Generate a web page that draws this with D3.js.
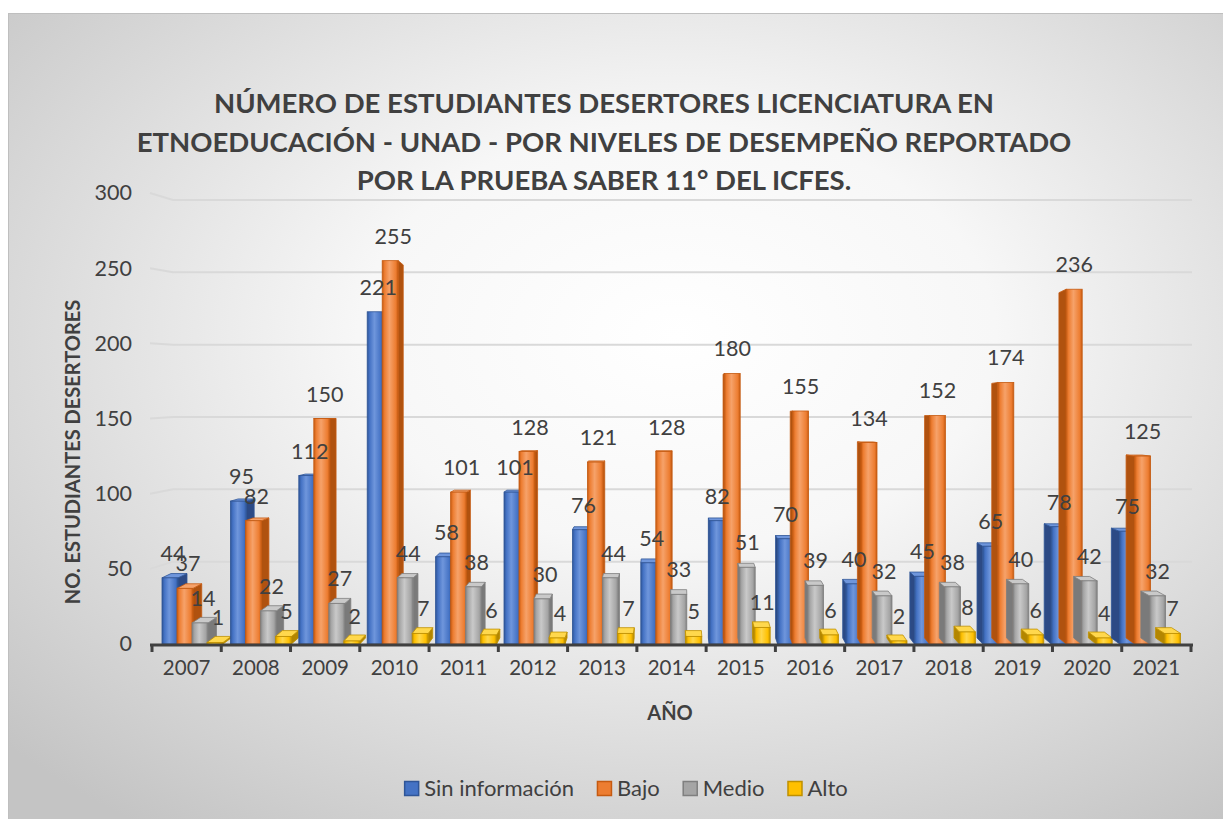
<!DOCTYPE html>
<html lang="es">
<head>
<meta charset="UTF-8">
<title>Estudiantes desertores por nivel de desempeño</title>
<script src="https://cdnjs.cloudflare.com/ajax/libs/d3/7.8.5/d3.min.js"></script>
<style>
  body { margin: 0; background: #ffffff; }
  text { font-family: Lato, "DejaVu Sans", sans-serif; fill: #404040; }
</style>
</head>
<body>
<div id="chart"></div>
<script>
/* global d3 */

// data
var years = ["2007", "2008", "2009", "2010", "2011", "2012", "2013", "2014", "2015", "2016", "2017", "2018", "2019", "2020", "2021"];
var sinInfo = [44, 95, 112, 221, 58, 101, 76, 54, 82, 70, 40, 45, 65, 78, 75];
var bajo    = [37, 82, 150, 255, 101, 128, 121, 128, 180, 155, 134, 152, 174, 236, 125];
var medio   = [14, 22, 27, 44, 38, 30, 44, 33, 51, 39, 32, 38, 40, 42, 32];
var alto    = [1, 5, 2, 7, 6, 4, 7, 5, 11, 6, 2, 8, 6, 4, 7];
var seriesNames = ["Sin información", "Bajo", "Medio", "Alto"];
var yTicks = [0, 50, 100, 150, 200, 250, 300];
var titleLines = [
  "NÚMERO DE ESTUDIANTES DESERTORES LICENCIATURA EN",
  "ETNOEDUCACIÓN - UNAD - POR NIVELES DE DESEMPEÑO REPORTADO",
  "POR LA PRUEBA SABER 11° DEL ICFES."
];

var series = [sinInfo, bajo, medio, alto];
// colours: [edge, base, light, side]
var colors = [
  ["#2f5597", "#4472c4", "#6f96dc", "#2c4a85"],
  ["#c55a11", "#ed7d31", "#f6a26a", "#b0520f"],
  ["#7f7f7f", "#a5a5a5", "#c9c9c9", "#7a7a7a"],
  ["#bf9000", "#ffc000", "#ffd84d", "#b38600"]
];

var W = 1223, H = 819;
var svg = d3.select("#chart").append("svg")
    .attr("width", W)
    .attr("height", H);

var defs = svg.append("defs");
var bg = defs.append("radialGradient").attr("id", "bg")
    .attr("cx", "0.55").attr("cy", "0.4").attr("r", "0.75");
bg.append("stop").attr("offset", "0").attr("stop-color", "#ffffff");
bg.append("stop").attr("offset", "0.35").attr("stop-color", "#f7f7f7");
bg.append("stop").attr("offset", "1").attr("stop-color", "#c4c4c4");

colors.forEach(function(c, i) {
  var g = defs.append("linearGradient").attr("id", "front" + i)
      .attr("x1", 0).attr("x2", 1).attr("y1", 0).attr("y2", 0);
  g.append("stop").attr("offset", "0").attr("stop-color", c[0]);
  g.append("stop").attr("offset", "0.15").attr("stop-color", c[1]);
  g.append("stop").attr("offset", "0.45").attr("stop-color", c[2]);
  g.append("stop").attr("offset", "0.85").attr("stop-color", c[1]);
  g.append("stop").attr("offset", "1").attr("stop-color", c[0]);
});

// chart background
svg.append("rect")
    .attr("x", 8.5).attr("y", 13.5)
    .attr("width", W - 8).attr("height", H - 13)
    .attr("fill", "url(#bg)")
    .attr("stroke", "#bfbfbf")
    .attr("stroke-width", 1);

// scales
var y = d3.scaleLinear().domain([0, 300]).range([644, 193]);
var yBack = d3.scaleLinear().domain([0, 300]).range([634, 200]);
var x = d3.scaleBand().domain(years).range([152, 1191]);
var xBar = d3.scaleBand().domain(years).range([154, 1180]);

// vanishing point for the fake 3D look
var vx = 670, vy = 418, kx = 0.018, ky = 0.027;

// gridlines (side wall + back wall)
svg.append("g").selectAll("path")
    .data(yTicks.slice(1))
    .enter().append("path")
    .attr("d", function(d) {
      return "M150," + y(d) + "L173," + yBack(d) + "L1192," + yBack(d);
    })
    .attr("fill", "none")
    .attr("stroke", "#d9d9d9")
    .attr("stroke-width", 2);

// y axis labels
var yAxis = svg.append("g")
    .attr("transform", "translate(138,0)")
    .call(d3.axisLeft(y).tickValues(yTicks).tickSize(0).tickPadding(6));
yAxis.select(".domain").remove();
yAxis.selectAll("text")
    .style("font-size", "21.5px")
    .style("font-family", "Lato, sans-serif")
    .attr("fill", "#404040");

// bars
var barW = 16, barStep = 15, base = y(0);
var bars = svg.append("g");
var labels = svg.append("g");

years.forEach(function(yr, j) {
  series.forEach(function(vals, i) {
    var v = vals[j];
    var fx = xBar(yr) + 8 + i * barStep;
    var top = y(v);
    var cx = fx + barW / 2;
    var dx = (vx - cx) * kx;
    var dyT = (vy - top) * ky;
    var dyB = (vy - base) * ky;
    var g = bars.append("g");
    var edge = dx > 0 ? fx + barW : fx;
    // side face
    g.append("path")
        .attr("d", "M" + edge + "," + top +
                   "L" + (edge + dx) + "," + (top + dyT) +
                   "L" + (edge + dx) + "," + (base + dyB) +
                   "L" + edge + "," + base + "Z")
        .attr("fill", colors[i][3])
        .attr("stroke", colors[i][0])
        .attr("stroke-width", 0.8);
    // top face (only when looked at from above)
    if (dyT < 0) {
      g.append("path")
          .attr("d", "M" + fx + "," + top +
                     "L" + (fx + barW) + "," + top +
                     "L" + (fx + barW + dx) + "," + (top + dyT) +
                     "L" + (fx + dx) + "," + (top + dyT) + "Z")
          .attr("fill", colors[i][2])
          .attr("stroke", colors[i][0])
          .attr("stroke-width", 0.8);
    }
    // front face
    g.append("rect")
        .attr("x", fx).attr("y", top)
        .attr("width", barW).attr("height", base - top)
        .attr("fill", "url(#front" + i + ")")
        .attr("stroke", colors[i][0])
        .attr("stroke-width", 0.8);

    labels.append("text")
        .attr("x", cx + (dx > 0 ? 3 : 0))
        .attr("y", top - 17)
        .attr("text-anchor", "middle")
        .style("font-size", "21.5px")
        .text(v);
  });
});

// x axis: thick floor line, ticks between categories, year labels
var axisG = svg.append("g");
axisG.append("line")
    .attr("x1", 150).attr("x2", 1193)
    .attr("y1", 645).attr("y2", 645)
    .attr("stroke", "#404040")
    .attr("stroke-width", 3);
axisG.selectAll("line.tick")
    .data(years.concat(["end"]))
    .enter().append("line")
    .attr("class", "tick")
    .attr("x1", function(d) { return d === "end" ? 1191 : x(d); })
    .attr("x2", function(d) { return d === "end" ? 1191 : x(d); })
    .attr("y1", 645).attr("y2", 652)
    .attr("stroke", "#404040")
    .attr("stroke-width", 3);

var xAxis = svg.append("g")
    .attr("transform", "translate(0,652)")
    .call(d3.axisBottom(x).tickSize(0).tickPadding(8));
xAxis.select(".domain").remove();
xAxis.selectAll("text")
    .style("font-size", "20.5px")
    .style("font-family", "Lato, sans-serif")
    .attr("fill", "#404040");

// axis titles
svg.append("text")
    .attr("x", 670).attr("y", 720)
    .attr("text-anchor", "middle")
    .style("font-size", "20px")
    .style("font-weight", "bold")
    .text("AÑO");

svg.append("text")
    .attr("transform", "translate(80,452) rotate(-90)")
    .attr("text-anchor", "middle")
    .style("font-size", "20px")
    .style("font-weight", "bold")
    .text("NO. ESTUDIANTES DESERTORES");

// title
svg.append("g").selectAll("text")
    .data(titleLines)
    .enter().append("text")
    .attr("x", 604)
    .attr("y", function(d, i) { return 113 + i * 38.5; })
    .attr("text-anchor", "middle")
    .style("font-size", "27.5px")
    .style("font-weight", "bold")
    .text(function(d) { return d; });

// legend
var legend = svg.append("g");
var lx = 0;
seriesNames.forEach(function(name, i) {
  var item = legend.append("g").attr("transform", "translate(" + lx + ",0)");
  item.append("rect")
      .attr("x", 0.5).attr("y", 781.5)
      .attr("width", 14).attr("height", 14)
      .attr("fill", colors[i][1])
      .attr("stroke", colors[i][0])
      .attr("stroke-width", 1.5);
  var t = item.append("text")
      .attr("x", 20).attr("y", 796)
      .style("font-size", "22px")
      .text(name);
  lx += 20 + t.node().getComputedTextLength() + 23;
});
var legendW = lx - 23;
legend.attr("transform", "translate(" + (626 - legendW / 2) + ",0)");
</script>
</body>
</html>
